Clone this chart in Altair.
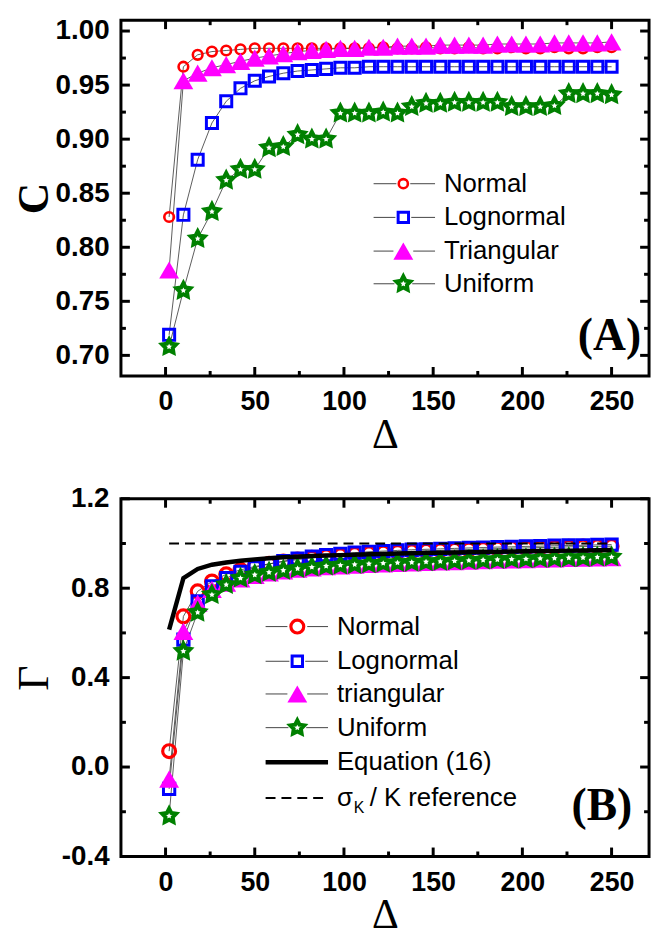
import altair as alt
import pandas as pd

# ---------------- data ----------------
delta = [2, 10, 18, 26, 34, 42, 50, 58, 66, 74, 82, 90, 98, 106, 114, 122,
         130, 138, 146, 154, 162, 170, 178, 186, 194, 202, 210, 218, 226, 234, 242, 250]

# Panel (A): C
c_normal = [0.828, 0.967, 0.978, 0.981, 0.982, 0.983, 0.984, 0.984, 0.984, 0.984, 0.984, 0.984, 0.984, 0.984, 0.984, 0.985,
            0.984, 0.984, 0.985, 0.984, 0.984, 0.985, 0.984, 0.984, 0.985, 0.984, 0.984, 0.985, 0.984, 0.984, 0.985, 0.985]
c_lognormal = [0.719, 0.830, 0.881, 0.915, 0.935, 0.947, 0.954, 0.958, 0.961, 0.963, 0.964, 0.965, 0.966, 0.966, 0.967, 0.967,
               0.967, 0.967, 0.967, 0.967, 0.967, 0.967, 0.967, 0.967, 0.967, 0.967, 0.967, 0.967, 0.967, 0.967, 0.967, 0.967]
c_triangular = [0.779, 0.954, 0.961, 0.966, 0.969, 0.972, 0.975, 0.977, 0.979, 0.981, 0.982, 0.983, 0.984, 0.984, 0.985, 0.985,
                0.986, 0.986, 0.986, 0.987, 0.987, 0.987, 0.987, 0.988, 0.988, 0.988, 0.988, 0.989, 0.989, 0.989, 0.989, 0.990]
c_uniform = [0.708, 0.760, 0.808, 0.833, 0.862, 0.872, 0.872, 0.892, 0.893, 0.904, 0.900, 0.900, 0.924, 0.924, 0.924, 0.925,
             0.924, 0.930, 0.933, 0.933, 0.934, 0.934, 0.934, 0.934, 0.930, 0.930, 0.930, 0.931, 0.942, 0.942, 0.942, 0.941]

# Panel (B): Gamma
g_normal = [0.071, 0.674, 0.786, 0.830, 0.862, 0.882, 0.897, 0.909, 0.919, 0.928, 0.936, 0.942, 0.947, 0.952, 0.956, 0.959,
            0.962, 0.965, 0.967, 0.969, 0.971, 0.973, 0.975, 0.977, 0.979, 0.980, 0.982, 0.983, 0.985, 0.986, 0.987, 0.988]
g_lognormal = [-0.098, 0.570, 0.741, 0.808, 0.845, 0.873, 0.893, 0.908, 0.921, 0.932, 0.941, 0.948, 0.954, 0.959, 0.963, 0.966,
               0.969, 0.972, 0.974, 0.976, 0.978, 0.980, 0.982, 0.984, 0.985, 0.987, 0.988, 0.990, 0.991, 0.992, 0.994, 0.995]
g_triangular = [-0.054, 0.607, 0.733, 0.795, 0.822, 0.842, 0.857, 0.868, 0.877, 0.885, 0.891, 0.896, 0.900, 0.903, 0.906, 0.909,
                0.911, 0.913, 0.915, 0.917, 0.919, 0.921, 0.923, 0.925, 0.927, 0.928, 0.930, 0.931, 0.933, 0.934, 0.936, 0.937]
g_uniform = [-0.219, 0.518, 0.692, 0.771, 0.816, 0.845, 0.860, 0.871, 0.880, 0.888, 0.894, 0.899, 0.903, 0.906, 0.909, 0.912,
             0.914, 0.916, 0.918, 0.920, 0.922, 0.924, 0.926, 0.928, 0.930, 0.931, 0.933, 0.934, 0.936, 0.937, 0.939, 0.940]
g_equation = [0.615, 0.845, 0.886, 0.905, 0.915, 0.923, 0.929, 0.934, 0.938, 0.941, 0.944, 0.946, 0.948, 0.950, 0.952, 0.953,
              0.955, 0.956, 0.958, 0.959, 0.960, 0.961, 0.962, 0.963, 0.964, 0.965, 0.966, 0.967, 0.968, 0.969, 0.970, 0.971]
ref_level = 1.0

names_a = ["Normal", "Lognormal", "Triangular", "Uniform"]
names_b = ["Normal", "Lognormal", "triangular", "Uniform", "Equation (16)"]

x_labels = [0, 50, 100, 150, 200, 250]
x_minor = [25, 75, 125, 175, 225]
a_labels = [0.70, 0.75, 0.80, 0.85, 0.90, 0.95, 1.00]
a_minor = [0.725, 0.775, 0.825, 0.875, 0.925, 0.975]
b_labels = [-0.4, 0.0, 0.4, 0.8, 1.2]
b_minor = [-0.2, 0.2, 0.6, 1.0]

# ---------------- style ----------------
SANS = "Liberation Sans"
SERIF = "Liberation Serif"
RED, BLUE, MAG, GREEN = "#ff0000", "#0000ff", "#ff00ff", "#008000"
STAR = ("M0,-1L0.30,-0.41L0.951,-0.309L0.49,0.16L0.588,0.809L0,0.52"
        "L-0.588,0.809L-0.49,0.16L-0.951,-0.309L-0.30,-0.41Z")
W = 533
HA = 359
HB = 361
MAJ, MIN, TW = 9, 5, 3

xscale = alt.Scale(domain=[-25, 271], nice=False, zero=False)
one = pd.DataFrame({"k": [0]})


def frame(names, cols):
    rows = []
    for n, vals in zip(names, cols):
        for d, v in zip(delta, vals):
            rows.append({"delta": d, "value": v, "series": n})
    return pd.DataFrame(rows)


def tick_rules(yscale, ymaj, ymin, H):
    out = []
    for vals, L in ((x_labels, MAJ), (x_minor, MIN)):
        d = pd.DataFrame({"delta": vals})
        xenc = alt.X("delta:Q", scale=xscale)
        out.append(alt.Chart(d).mark_rule(color="black", strokeWidth=TW).encode(
            x=xenc, y=alt.value(H), y2=alt.value(H - L)))
        out.append(alt.Chart(d).mark_rule(color="black", strokeWidth=TW).encode(
            x=xenc, y=alt.value(0), y2=alt.value(L)))
    for vals, L in ((ymaj, MAJ), (ymin, MIN)):
        d = pd.DataFrame({"value": vals})
        yenc = alt.Y("value:Q", scale=yscale)
        out.append(alt.Chart(d).mark_rule(color="black", strokeWidth=TW).encode(
            y=yenc, x=alt.value(0), x2=alt.value(L)))
        out.append(alt.Chart(d).mark_rule(color="black", strokeWidth=TW).encode(
            y=yenc, x=alt.value(W), x2=alt.value(W - L)))
    return out


def main_axes(ylabels, label_expr, ytitle, ytitle_weight):
    xa = alt.Axis(orient="bottom", values=x_labels, ticks=False, tickSize=0, domain=False, grid=False,
                  labelFont=SANS, labelFontWeight="bold", labelFontSize=27, labelColor="black",
                  labelPadding=13, title="Δ", titleFont=SERIF, titleFontSize=42,
                  titleFontWeight="normal", titleColor="black", titlePadding=0)
    ya = alt.Axis(orient="left", values=ylabels, ticks=False, tickSize=0, domain=False, grid=False,
                  labelExpr=label_expr, labelFont=SANS, labelFontWeight="bold", labelFontSize=28,
                  labelColor="black", labelPadding=12, minExtent=63, maxExtent=63,
                  title=ytitle, titleFont=SERIF, titleFontSize=44, titleFontWeight=ytitle_weight,
                  titleColor="black", titlePadding=2)
    return xa, ya


def pts(df, yscale, **mk):
    return alt.Chart(df).mark_point(opacity=1, **mk).encode(
        x=alt.X("delta:Q", scale=xscale),
        y=alt.Y("value:Q", scale=yscale))


def seg(x1, x2, y, **kw):
    return alt.Chart(one).mark_rule(**kw).encode(
        x=alt.value(x1), x2=alt.value(x2), y=alt.value(y))


def txt(x, y, s, size=26, font=SANS, weight="normal", align="left", baseline="middle"):
    return alt.Chart(one).mark_text(text=s, font=font, fontSize=size, fontWeight=weight,
                                    align=align, baseline=baseline, color="black").encode(
        x=alt.value(x), y=alt.value(y))


def mark_at(x, y, **mk):
    return alt.Chart(one).mark_point(opacity=1, **mk).encode(x=alt.value(x), y=alt.value(y))


def legend_entry(x0, x1, xm, gap, y, tx, label, mk):
    return [seg(x0, xm - gap, y, color="#444444", strokeWidth=1),
            seg(xm + gap, x1, y, color="#444444", strokeWidth=1),
            mark_at(xm, y, **mk),
            txt(tx, y, label)]


STAR_MK = dict(shape=STAR, filled=True, fill="white", stroke=GREEN, size=220, strokeWidth=4)

# ---------------- panel A ----------------
dfa = frame(names_a, [c_normal, c_lognormal, c_triangular, c_uniform])
ysa = alt.Scale(domain=[0.681, 1.010], nice=False, zero=False)
xa, ya = main_axes(a_labels, "format(datum.value, '.2f')", "C", "bold")

mk_a = [
    dict(shape="circle", filled=False, color=RED, size=95, strokeWidth=2.6),
    dict(shape="square", filled=False, color=BLUE, size=125, strokeWidth=3),
    dict(shape="triangle-up", filled=True, color=MAG, size=400, strokeWidth=0),
    STAR_MK,
]

layers_a = [alt.Chart(dfa).mark_line(color="#333333", strokeWidth=0.8).encode(
    x=alt.X("delta:Q", scale=xscale, axis=xa),
    y=alt.Y("value:Q", scale=ysa, axis=ya),
    detail="series:N")]
for n, mk in zip(names_a, mk_a):
    layers_a.append(pts(dfa[dfa.series == n], ysa, **mk))
layers_a += tick_rules(ysa, a_labels, a_minor, HA)

leg_rows_a = [165, 199, 233, 266]
leg_mk_a = [
    dict(shape="circle", filled=False, color=RED, size=85, strokeWidth=2.6),
    dict(shape="square", filled=False, color=BLUE, size=110, strokeWidth=3),
    dict(shape="triangle-up", filled=True, color=MAG, size=400, strokeWidth=0),
    STAR_MK,
]
gaps_a = [7, 8, 10, 9]
for n, yy, mk, g in zip(names_a, leg_rows_a, leg_mk_a, gaps_a):
    layers_a += legend_entry(255, 317, 285, g, yy, 326, n, mk)
layers_a.append(txt(525, 333, "(A)", size=46, font=SERIF, weight="bold", align="right", baseline="alphabetic"))

panel_a = alt.layer(*layers_a).properties(width=W, height=HA)

# ---------------- panel B ----------------
dfb = frame(names_b[:4], [g_normal, g_lognormal, g_triangular, g_uniform])
df_eq = pd.DataFrame({"delta": delta, "value": g_equation})
df_ref = pd.DataFrame({"delta": [delta[0], delta[-1]], "value": [ref_level, ref_level]})
ysb = alt.Scale(domain=[-0.4, 1.2], nice=False, zero=False)
xb, yb = main_axes(b_labels,
                   "datum.value < 0 ? '-' + format(-datum.value, '.1f') : format(datum.value, '.1f')",
                   "Γ", "normal")

mk_b = [
    dict(shape="circle", filled=False, color=RED, size=169, strokeWidth=3.2),
    dict(shape="square", filled=False, color=BLUE, size=130, strokeWidth=3),
    dict(shape="triangle-up", filled=True, color=MAG, size=400, strokeWidth=0),
    STAR_MK,
]

layers_b = [alt.Chart(dfb).mark_line(color="#333333", strokeWidth=0.8).encode(
    x=alt.X("delta:Q", scale=xscale, axis=xb),
    y=alt.Y("value:Q", scale=ysb, axis=yb),
    detail="series:N")]
for n, mk in zip(names_b[:4], mk_b):
    layers_b.append(pts(dfb[dfb.series == n], ysb, **mk))
layers_b.append(alt.Chart(df_eq).mark_line(color="black", strokeWidth=4.5).encode(
    x=alt.X("delta:Q", scale=xscale), y=alt.Y("value:Q", scale=ysb)))
layers_b.append(alt.Chart(df_ref).mark_line(color="black", strokeWidth=2, strokeDash=[10, 6]).encode(
    x=alt.X("delta:Q", scale=xscale), y=alt.Y("value:Q", scale=ysb)))
layers_b += tick_rules(ysb, b_labels, b_minor, HB)

leg_rows_b = [129, 164, 197, 231, 266, 302]
leg_mk_b = [
    dict(shape="circle", filled=False, color=RED, size=169, strokeWidth=3.2),
    dict(shape="square", filled=False, color=BLUE, size=110, strokeWidth=3),
    dict(shape="triangle-up", filled=True, color=MAG, size=400, strokeWidth=0),
    STAR_MK,
]
gaps_b = [10, 8, 10, 9]
for n, yy, mk, g in zip(names_b[:4], leg_rows_b[:4], leg_mk_b, gaps_b):
    layers_b += legend_entry(146, 209, 178, g, yy, 218, n, mk)
layers_b.append(seg(146, 209, leg_rows_b[4], color="black", strokeWidth=4.5))
layers_b.append(txt(218, leg_rows_b[4], names_b[4]))
layers_b.append(seg(146, 209, leg_rows_b[5], color="black", strokeWidth=2, strokeDash=[10, 6]))
layers_b.append(txt(218, leg_rows_b[5], "σ"))
layers_b.append(txt(235, leg_rows_b[5] + 10, "K", size=16))
layers_b.append(txt(251, leg_rows_b[5], "/ K"))
layers_b.append(txt(290, leg_rows_b[5], "reference"))
layers_b.append(txt(516, 324, "(B)", size=46, font=SERIF, weight="bold", align="right", baseline="alphabetic"))

panel_b = alt.layer(*layers_b).properties(width=W, height=HB)

chart = alt.vconcat(panel_a, panel_b, spacing=124, bounds="flush").properties(
    padding={"left": 3, "top": 3, "right": 2, "bottom": 0}
).configure_view(stroke="black", strokeWidth=3)

chart.save("out.html", embed_options={"renderer": "svg", "actions": False})
